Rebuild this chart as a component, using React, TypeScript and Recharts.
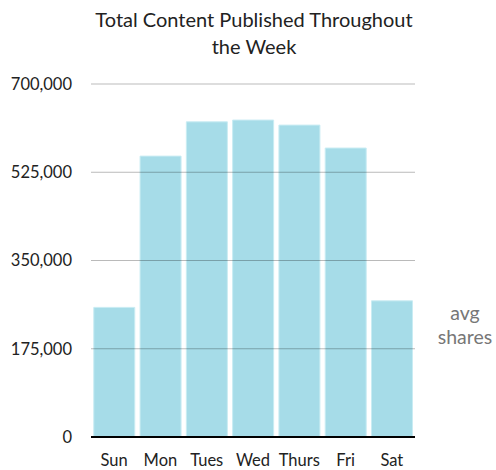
import React from "react";
import { BarChart, Bar, XAxis, YAxis, ReferenceLine } from "recharts";

const days = ["Sun", "Mon", "Tues", "Wed", "Thurs", "Fri", "Sat"];
const avgShares = [257000, 557000, 625000, 628500, 618500, 573000, 270000];
const yTicks = [0, 175000, 350000, 525000, 700000];
const gridTicks = [175000, 350000, 525000, 700000];

const data = days.map((d, i) => ({ day: d, value: avgShares[i] }));
const FONT = "Lato, 'Open Sans', sans-serif";

export default function App() {
  return (
    <div style={{ position: "absolute", left: 0, top: 0, width: 496, height: 470, fontFamily: FONT }}>
      <div
        style={{
          position: "absolute",
          left: 34,
          width: 440,
          top: 6,
          textAlign: "center",
          fontSize: 20,
          lineHeight: "27px",
          color: "#222",
        }}
      >
        Total Content Published Throughout
        <br />
        the Week
      </div>
      <div
        style={{
          position: "absolute",
          left: 420,
          width: 90,
          top: 301,
          textAlign: "center",
          fontSize: 19.5,
          lineHeight: "24px",
          color: "#777",
        }}
      >
        avg
        <br />
        shares
      </div>
      <BarChart
        width={496}
        height={470}
        data={data}
        margin={{ top: 84, right: 81, left: 0, bottom: 3 }}
        barCategoryGap="6%"
      >
        <XAxis
          dataKey="day"
          tickLine={false}
          axisLine={{ stroke: "#000", strokeWidth: 2 }}
          tick={{ fill: "#222", fontSize: 16.5, fontFamily: FONT }}
          tickSize={0}
          tickMargin={17}
          height={30}
          interval={0}
        />
        <YAxis
          domain={[0, 700000]}
          ticks={yTicks}
          tickLine={false}
          axisLine={false}
          tickSize={0}
          tickMargin={19}
          width={91}
          tick={{ fill: "#222", fontSize: 16.5, fontFamily: FONT }}
          tickFormatter={(v: number) => v.toLocaleString("en-US")}
        />
        <Bar dataKey="value" fill="#a6dce8" stroke="#c9ecf3" strokeWidth={1} isAnimationActive={false} />
        {gridTicks.map((t) => (
          <ReferenceLine key={t} y={t} stroke="#000" strokeOpacity={0.27} strokeWidth={1} />
        ))}
      </BarChart>
    </div>
  );
}
